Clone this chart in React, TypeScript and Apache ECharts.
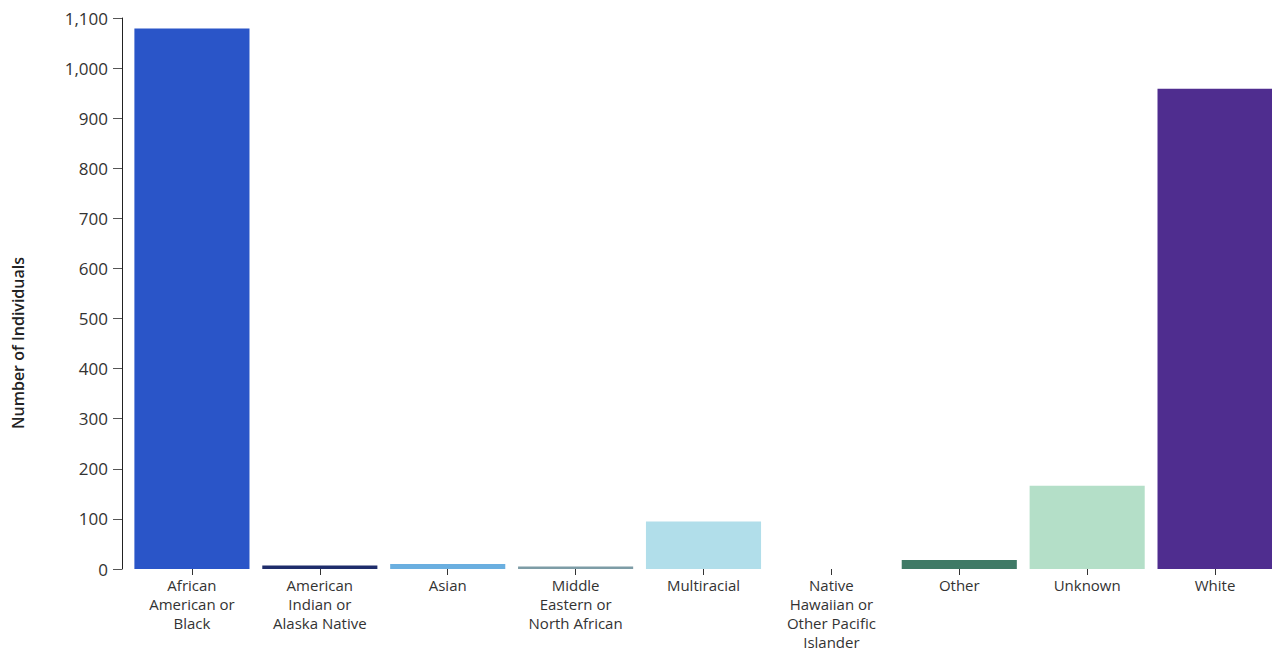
import React, { useEffect, useRef } from "react";
import * as echarts from "echarts";

const categories = [
  "African\nAmerican or\nBlack",
  "American\nIndian or\nAlaska Native",
  "Asian",
  "Middle\nEastern or\nNorth African",
  "Multiracial",
  "Native\nHawaiian or\nOther Pacific\nIslander",
  "Other",
  "Unknown",
  "White",
];
const values = [1079, 7, 10, 5, 95, 0, 18, 166, 959];
const barColors = [
  "#2a55c8",
  "#1f2d6b",
  "#6aafe0",
  "#7d9ca6",
  "#b1deea",
  "#9b5fc0",
  "#3f7a66",
  "#b4dfc8",
  "#4f2d8f",
];
const yTicks = { min: 0, max: 1100, interval: 100 };
const yAxisTitle = "Number of Individuals";

export default function App() {
  const ref = useRef<HTMLDivElement>(null);
  useEffect(() => {
    document.body.style.margin = "0";
    document.body.style.overflow = "hidden";
    const chart = echarts.init(ref.current!, undefined, { renderer: "svg" });
    const font = "'Open Sans', 'Noto Sans', sans-serif";
    chart.setOption({
      animation: false,
      textStyle: { fontFamily: font },
      grid: { left: 128, top: 18, width: 1151, bottom: 80, containLabel: false },
      graphic: [
        {
          type: "text",
          x: 18,
          y: 343,
          rotation: Math.PI / 2,
          style: {
            text: yAxisTitle,
            fill: "#222",
            fontSize: 16,
            fontWeight: 600,
            fontFamily: font,
            textAlign: "center",
            textVerticalAlign: "middle",
          },
        },
      ],
      xAxis: {
        type: "category",
        data: categories,
        axisLine: { show: false },
        axisTick: { show: true, alignWithLabel: true, length: 6, lineStyle: { color: "#333" } },
        axisLabel: {
          interval: 0,
          color: "#333",
          fontSize: 15,
          lineHeight: 19,
          margin: 6,
          fontFamily: font,
        },
      },
      yAxis: {
        type: "value",
        min: yTicks.min,
        max: yTicks.max,
        interval: yTicks.interval,
        offset: 6,
        axisLine: { show: true, lineStyle: { color: "#222", width: 1 } },
        axisTick: { show: true, length: 9, lineStyle: { color: "#555" } },
        splitLine: { show: false },
        axisLabel: {
          color: "#333",
          fontSize: 17,
          margin: 14,
          fontFamily: font,
          formatter: (v: number) => v.toLocaleString("en-US"),
        },
      },
      series: [
        {
          type: "bar",
          barCategoryGap: "10%",
          data: values.map((v, i) => ({ value: v, itemStyle: { color: barColors[i] } })),
        },
      ],
    });
    return () => chart.dispose();
  }, []);
  return (
    <div style={{ width: 1272, height: 651, overflow: "hidden", position: "relative" }}>
      <div ref={ref} style={{ width: 1290, height: 651 }} />
    </div>
  );
}
